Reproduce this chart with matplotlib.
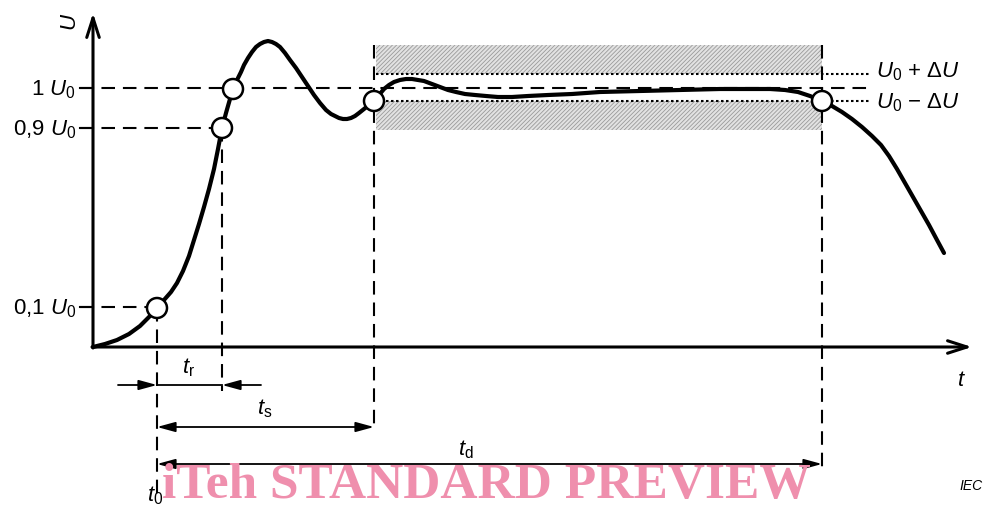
import matplotlib
matplotlib.use("Agg")
import matplotlib.pyplot as plt
from matplotlib.patches import Rectangle, Circle

plt.rcParams["font.family"] = ["Liberation Sans", "DejaVu Sans"]
plt.rcParams["mathtext.fontset"] = "custom"
plt.rcParams["mathtext.rm"] = "Liberation Sans"
plt.rcParams["mathtext.it"] = "Liberation Sans:italic"
plt.rcParams["hatch.linewidth"] = 0.6

# ---- Diagram data (drawing units: x to the right, y downwards) -------------
ORIGIN = (93, 348)
X_END, Y_END = 972, 14

# voltage curve U(t)
curve_t = [93, 105, 117, 129, 140, 149, 157, 164, 171, 177, 183, 189, 194,
           199, 204, 209, 214, 218, 222, 226, 230, 233, 237, 241, 244, 248,
           252, 256, 260, 264, 268, 272, 276, 280, 285, 290, 296, 302, 308,
           314, 320, 326, 331, 335, 339, 343, 347, 351, 355, 359, 364, 369,
           374, 379, 384, 389, 394, 400, 406, 412, 418, 424, 432, 440, 448,
           456, 465, 475, 486, 498, 512, 528, 548, 572, 600, 640, 680, 720,
           750, 770, 785, 798, 810, 822, 832, 842, 852, 862, 872, 881, 889,
           897, 905, 913, 921, 929, 937, 944]
curve_u = [348, 345, 341, 335, 327, 318, 309, 301, 293, 284, 272, 257, 241,
           225, 208, 190, 170, 150, 129, 114, 100, 90, 81, 73, 66, 59,
           53, 48, 45, 43, 42, 43, 45, 48, 54, 61, 69, 78, 87,
           96, 104, 111, 115, 117, 119, 120, 120, 119, 117, 114, 110, 106,
           102, 96, 90, 86, 83, 81, 80, 80, 81, 82, 85, 88, 91,
           93, 95, 96, 97, 98, 98, 97, 96, 95, 93, 92, 91, 90,
           90, 90, 91, 93, 97, 102, 107, 113, 120, 128, 137, 146, 157,
           170, 184, 198, 212, 226, 241, 254]

# marked points on the curve
mark_t = [157, 222, 233, 374, 822]
mark_u = [309, 129, 90, 102, 102]

# reference levels
level_names = ["1 $U_0$", "0,9 $U_0$", "0,1 $U_0$"]
level_y = [89, 129, 308]
level_x_end = [870, 222, 157]

# tolerance band U0 +/- dU
band_x = (376, 822)
band_outer = (46, 131)
band_inner = (75, 102)

# time markers
t0_x, tr_x, ts_x, td_x = 157, 222, 374, 822

fig = plt.figure(figsize=(9.87, 5.10), dpi=100)
ax = fig.add_axes([0, 0, 1, 1])
ax.set_xlim(0, 987)
ax.set_ylim(510, 0)
ax.axis("off")

DASH = (0, (6.5, 3.8))
LW_D = 1.5

# hatched tolerance band
for y0, y1 in [(band_outer[0], band_inner[0]), (band_inner[1], band_outer[1])]:
    ax.add_patch(Rectangle((band_x[0], y0), band_x[1] - band_x[0], y1 - y0,
                           facecolor="#e2e2e2", edgecolor="#9a9a9a", hatch="////////",
                           lw=0, zorder=1))
for y in band_inner:
    ax.plot([band_x[0], 870], [y, y], color="k", ls=(0, (1.2, 1.2)), lw=1.5, zorder=2)

# horizontal reference levels
for name, y, xe in zip(level_names, level_y, level_x_end):
    ax.plot([80, xe], [y, y], color="k", ls=DASH, lw=LW_D, zorder=2)
    ax.plot([80, 93], [y, y], color="k", lw=LW_D, zorder=2)
    ax.text(76, y + 1, name, ha="right", va="center", fontsize=16)

# vertical markers
ax.plot([t0_x, t0_x], [309, 495], color="k", ls=DASH, lw=LW_D, zorder=2)
ax.plot([tr_x, tr_x], [129, 392], color="k", ls=DASH, lw=LW_D, zorder=2)
ax.plot([ts_x, ts_x], [46, 432], color="k", ls=DASH, lw=LW_D, zorder=2)
ax.plot([td_x, td_x], [46, 470], color="k", ls=DASH, lw=LW_D, zorder=2)

# axes with open arrowheads
ax.annotate("", xy=(ORIGIN[0], Y_END), xytext=(ORIGIN[0], ORIGIN[1] + 1),
            arrowprops=dict(arrowstyle="->,head_length=1.4,head_width=0.45",
                            lw=2.2, color="k", shrinkA=0, shrinkB=0), zorder=3)
ax.annotate("", xy=(X_END, ORIGIN[1]), xytext=(ORIGIN[0] - 1, ORIGIN[1]),
            arrowprops=dict(arrowstyle="->,head_length=1.4,head_width=0.45",
                            lw=2.2, color="k", shrinkA=0, shrinkB=0), zorder=3)
ax.text(71, 22, "$U$", rotation=90, ha="center", va="center", fontsize=16)
ax.text(961, 381, "$t$", ha="center", va="center", fontsize=16)

# curve and marks
ax.plot(curve_t, curve_u, color="k", lw=3.0, solid_capstyle="round",
        solid_joinstyle="round", zorder=4)
for x, y in zip(mark_t, mark_u):
    ax.add_patch(Circle((x, y), 10, facecolor="white", edgecolor="k", lw=1.8, zorder=5))

# band labels
ax.text(876, 72, "$U_0$ + Δ$U$", ha="left", va="center", fontsize=16)
ax.text(876, 103, "$U_0$ − Δ$U$", ha="left", va="center", fontsize=16)

# dimension arrows
AP = dict(arrowstyle="-|>,head_length=1.1,head_width=0.3", lw=1.3, color="k",
          shrinkA=0, shrinkB=0)
AP2 = dict(arrowstyle="<|-|>,head_length=1.1,head_width=0.3", lw=1.3, color="k",
           shrinkA=0, shrinkB=0)
y_tr, y_ts, y_td = 386, 428, 465
ax.annotate("", xy=(t0_x, y_tr), xytext=(118, y_tr), arrowprops=AP)
ax.annotate("", xy=(tr_x, y_tr), xytext=(261, y_tr), arrowprops=AP)
ax.plot([t0_x, tr_x], [y_tr, y_tr], color="k", lw=1.3)
ax.annotate("", xy=(t0_x, y_ts), xytext=(ts_x, y_ts), arrowprops=AP2)
ax.annotate("", xy=(t0_x, y_td), xytext=(td_x, y_td), arrowprops=AP2)
ax.text(189, 368, r"$t_\mathrm{r}$", ha="center", va="center", fontsize=16)
ax.text(265, 409, r"$t_\mathrm{s}$", ha="center", va="center", fontsize=16)
ax.text(466, 450, r"$t_\mathrm{d}$", ha="center", va="center", fontsize=16)
ax.text(155, 496, r"$t_0$", ha="center", va="center", fontsize=16)

ax.text(971, 486, "IEC", ha="center", va="center", fontsize=10, style="italic")

# watermark
ax.text(486, 486, "iTeh STANDARD PREVIEW", ha="center", va="center",
        fontsize=37, fontweight="bold", family="Liberation Serif",
        color="#ef8fad", zorder=10)

fig.savefig("out.png", dpi=100)
